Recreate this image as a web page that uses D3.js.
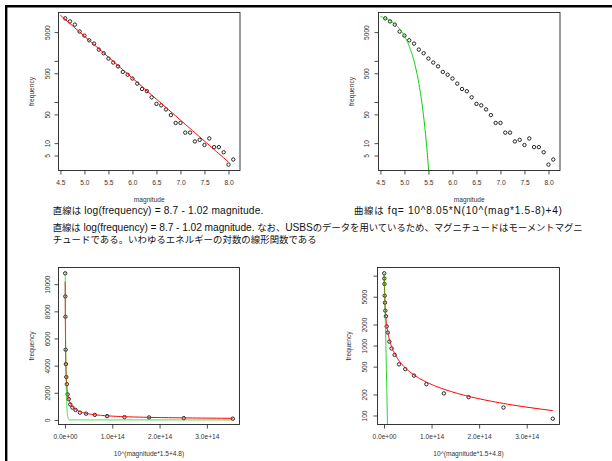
<!DOCTYPE html>
<html><head><meta charset="utf-8">
<script src="https://cdn.jsdelivr.net/npm/d3@7"></script>
<style>
html,body{margin:0;padding:0;background:#fff;}
svg{display:block;}
text{font-family:"Liberation Sans",Arial,"Noto Sans CJK JP",sans-serif;}
</style></head><body>
<svg id="c" width="612" height="461"></svg>
<script>
// ---------- data ----------
const magnitudes = [4.6,4.7,4.8,4.9,5.0,5.1,5.2,5.3,5.4,5.5,5.6,5.7,5.8,5.9,6.0,6.1,6.2,6.3,6.4,6.5,
                    6.6,6.7,6.8,6.9,7.0,7.1,7.2,7.3,7.4,7.5,7.6,7.7,7.8,7.9,8.0,8.1];
const frequency  = [10800,9100,7600,5170,4110,3160,2630,1880,1533,1140,910,735,538,460,372,280,207,183,130,90,
                    83,66,48,31,31,18,18,11,12,9,13,8,8,6,3,4];
const nEnergyPoints = 20; // bottom panels use the first 20 magnitudes (4.6 - 6.5)

const magTicks = [4.5,5.0,5.5,6.0,6.5,7.0,7.5,8.0];
const magTickLabels = ["4.5","5.0","5.5","6.0","6.5","7.0","7.5","8.0"];
const logTicksTop = [5,10,50,100,500,1000,5000];
const logTickLabelsTop = ["5","10","50","","500","","5000"];
const linTicks = [0,2000,4000,6000,8000,10000];
const linTickLabels = ["0","2000","4000","6000","8000","10000"];
const logTicksBottom = [100,200,500,1000,2000,5000,10000];
const logTickLabelsBottom = ["100","200","500","1000","2000","5000",""];
const energyTicks = [0,1e14,2e14,3e14];
const energyTickLabels = ["0.0e+00","1.0e+14","2.0e+14","3.0e+14"];

// fitted formulas shown in the captions
const fitA = 8.7, fitB = 1.02;           // log10(f) = 8.7 - 1.02 m
const curveK = 8.05;                     // f = 10^8.05 * N(10^(1.5m-8)+4)

const caption1a = "直線は log(frequency) = 8.7 - 1.02 magnitude.";
const caption1b = "曲線は fq= 10^8.05*N(10^(mag*1.5-8)+4)";
const caption2 = "直線は log(frequency) = 8.7 - 1.02 magnitude. なお、USBSのデータを用いているため、マグニチュードはモーメントマグニ";
const caption3 = "チュードである。いわゆるエネルギーの対数の線形関数である";

// ---------- helpers ----------
const energyOf = m => Math.pow(10, m*1.5 + 4.8);
const lineFit = m => Math.pow(10, fitA - fitB*m);
const dnorm = z => Math.exp(-z*z/2)/Math.sqrt(2*Math.PI);
const curveFit = m => Math.pow(10, curveK) * dnorm(Math.pow(10, m*1.5-8) + 4);
const ext = (lo, hi) => { const r = hi - lo; return [lo - 0.04*r, hi + 0.04*r]; };

const pts = magnitudes.map((m,i)=>({m, f: frequency[i], e: energyOf(m)}));
const ptsE = pts.slice(0, nEnergyPoints);

const svg = d3.select("#c");
svg.append("rect").attr("width",612).attr("height",461).attr("fill","#fff");

const panels = {
  tl: {x0:58.5, x1:240, y0:12.5, y1:170.5},
  tr: {x0:378.5, x1:560, y0:12.5, y1:170.5},
  bl: {x0:58.5, x1:239.5, y0:267.5, y1:424.5},
  br: {x0:377.5, x1:559.5, y0:267.5, y1:424.5}
};

const FS = 6.6, TXT = "#333";

function drawPanel(key, x, y, opt) {
  const p = panels[key];
  const g = svg.append("g");
  const clipId = "clip-" + key;
  svg.append("clipPath").attr("id", clipId).append("rect")
    .attr("x", p.x0).attr("y", p.y0).attr("width", p.x1-p.x0).attr("height", p.y1-p.y0);

  const xa = d3.axisBottom(x).tickValues(opt.xTicks).tickFormat((d,i)=>opt.xLabels[i])
    .tickSize(4).tickSizeOuter(0).tickPadding(5.5);
  const gx = g.append("g").attr("transform", `translate(0,${p.y1})`).call(xa);
  gx.select(".domain").remove();
  gx.selectAll("line").attr("stroke","#222").attr("stroke-width",0.8);
  gx.selectAll("text").attr("font-size",FS).attr("fill",TXT).attr("font-family",null);

  const ya = d3.axisLeft(y).tickValues(opt.yTicks).tickFormat((d,i)=>opt.yLabels[i])
    .tickSize(4).tickSizeOuter(0);
  const gy = g.append("g").attr("transform", `translate(${p.x0},0)`).call(ya);
  gy.select(".domain").remove();
  gy.selectAll("line").attr("stroke","#222").attr("stroke-width",0.8);
  gy.selectAll("text").attr("font-size",FS).attr("fill",TXT).attr("font-family",null)
    .attr("x",0).attr("y",0).attr("dy","0.35em").attr("text-anchor","middle")
    .attr("transform", `translate(${-opt.yLabOff},0) rotate(-90)`);

  g.append("text").attr("x",(p.x0+p.x1)/2).attr("y",p.y1+29).attr("dy","0.35em")
    .attr("text-anchor","middle").attr("font-size",FS).attr("fill",TXT).text(opt.xTitle);
  g.append("text").attr("transform",`translate(${p.x0-opt.yTitOff},${(p.y0+p.y1)/2}) rotate(-90)`)
    .attr("dy","0.35em").attr("text-anchor","middle").attr("font-size",FS).attr("fill",TXT).text("frequency");

  g.append("g").selectAll("circle").data(opt.points).join("circle")
    .attr("cx", d=>x(opt.px(d))).attr("cy", d=>y(d.f)).attr("r",1.7)
    .attr("fill","none").attr("stroke","#111").attr("stroke-width",0.9);

  const lines = g.append("g").attr("clip-path", `url(#${clipId})`);
  opt.curves.forEach(c => {
    lines.append("path").datum(c.data)
      .attr("d", d3.line().x(d=>x(d[0])).y(d=>y(d[1])))
      .attr("fill","none").attr("stroke",c.color).attr("stroke-width",1).attr("stroke-opacity",c.op||1);
  });

  g.append("rect").attr("x",p.x0).attr("y",p.y0).attr("width",p.x1-p.x0).attr("height",p.y1-p.y0)
    .attr("fill","none").attr("stroke","#222").attr("stroke-width",0.9);
}

// ---------- top panels ----------
const magDom = ext(d3.min(magnitudes), d3.max(magnitudes));
const logDomTop = ext(Math.log10(d3.min(frequency)), Math.log10(d3.max(frequency)));
function topScales(p) {
  return [
    d3.scaleLinear().domain(magDom).range([p.x0, p.x1]),
    d3.scaleLog().domain(logDomTop.map(v=>Math.pow(10,v))).range([p.y1, p.y0])
  ];
}
const lineSamples = d3.range(4.5, 8.0001, 0.05).map(m => [m, lineFit(m)]);
const curveSamples = d3.range(4.5, 5.62, 0.005).map(m => [m, curveFit(m)]).filter(d=>d[1]>1e-3);

let [xTL, yTL] = topScales(panels.tl);
drawPanel("tl", xTL, yTL, {
  xTicks: magTicks, xLabels: magTickLabels, yTicks: logTicksTop, yLabels: logTickLabelsTop,
  xTitle: "magnitude", yLabOff: 11, yTitOff: 27, points: pts, px: d=>d.m,
  curves: [{data: lineSamples, color: "#ff0000"}]
});
let [xTR, yTR] = topScales(panels.tr);
drawPanel("tr", xTR, yTR, {
  xTicks: magTicks, xLabels: magTickLabels, yTicks: logTicksTop, yLabels: logTickLabelsTop,
  xTitle: "magnitude", yLabOff: 11.5, yTitOff: 27, points: pts, px: d=>d.m,
  curves: [{data: curveSamples, color: "#00cc00"}]
});

// ---------- bottom panels ----------
const eDom = ext(d3.min(ptsE, d=>d.e), d3.max(ptsE, d=>d.e));
const fMinE = d3.min(ptsE, d=>d.f), fMaxE = d3.max(ptsE, d=>d.f);
const mLo = magnitudes[0], mHi = magnitudes[nEnergyPoints-1];
const redE = d3.range(mLo, mHi+1e-9, 0.01).map(m => [energyOf(m), lineFit(m)]);
const greenE = d3.range(mLo, mHi+1e-9, 0.005).map(m => [energyOf(m), curveFit(m)]);

const xBL = d3.scaleLinear().domain(eDom).range([panels.bl.x0, panels.bl.x1]);
const yBL = d3.scaleLinear().domain(ext(fMinE, fMaxE)).range([panels.bl.y1, panels.bl.y0]);
drawPanel("bl", xBL, yBL, {
  xTicks: energyTicks, xLabels: energyTickLabels, yTicks: linTicks, yLabels: linTickLabels,
  xTitle: "10^(magnitude*1.5+4.8)", yLabOff: 11, yTitOff: 27, points: ptsE, px: d=>d.e,
  curves: [{data: redE, color: "#ff0000"}, {data: greenE, color: "#00cc00", op: 0.7}]
});

const xBR = d3.scaleLinear().domain(eDom).range([panels.br.x0, panels.br.x1]);
const logDomE = ext(Math.log10(fMinE), Math.log10(fMaxE));
const yBR = d3.scaleLog().domain(logDomE.map(v=>Math.pow(10,v))).range([panels.br.y1, panels.br.y0]);
const greenEpos = greenE.filter(d => d[1] > 1e-3);
drawPanel("br", xBR, yBR, {
  xTicks: energyTicks, xLabels: energyTickLabels, yTicks: logTicksBottom, yLabels: logTickLabelsBottom,
  xTitle: "10^(magnitude*1.5+4.8)", yLabOff: 13, yTitOff: 29, points: ptsE, px: d=>d.e,
  curves: [{data: redE, color: "#ff0000"}, {data: greenEpos, color: "#00cc00", op: 0.85}]
});

// ---------- captions (Japanese runs slightly smaller than Latin runs) ----------
const cap = svg.append("g").attr("fill", "#111");
const cjkRe = /([\u3000-\u30ff\u4e00-\u9fff\uff00-\uffef]+)/;
function caption(x, y, str, width) {
  const t = cap.append("text").attr("x", x).attr("y", y);
  str.split(cjkRe).filter(s => s.length).forEach(s => {
    const isCJK = cjkRe.test(s);
    t.append("tspan")
      .attr("font-size", isCJK ? 9.4 : 10.2)
      .attr("font-family", isCJK ? '"Noto Sans CJK JP",sans-serif' : '"Liberation Sans",Arial,sans-serif')
      .text(s);
  });
  t.attr("textLength", width).attr("lengthAdjust", "spacing");
}
caption(52.7, 214.0, caption1a, 210.6);
caption(354, 214.0, caption1b, 208);
caption(52.7, 231.3, caption2, 530);
caption(52.7, 243.3, caption3, 264);

// ---------- outer frame ----------
svg.append("line").attr("x1",5).attr("x2",612).attr("y1",6.2).attr("y2",6.2).attr("stroke","#000").attr("stroke-width",2.4);
svg.append("line").attr("x1",6.2).attr("x2",6.2).attr("y1",5).attr("y2",461).attr("stroke","#000").attr("stroke-width",2.4);
</script>
</body></html>
